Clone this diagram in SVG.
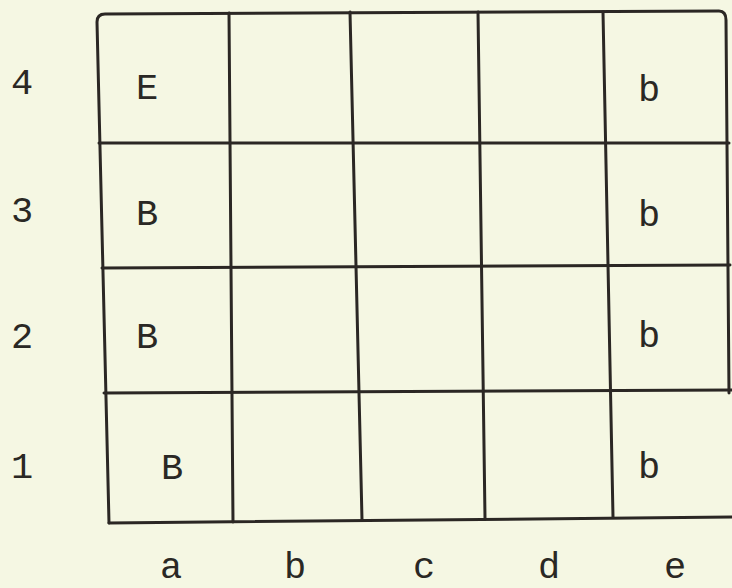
<svg xmlns="http://www.w3.org/2000/svg" width="732" height="588" viewBox="0 0 732 588">
<style>
.ln{fill:none;stroke:#2b2724;stroke-width:3;stroke-linecap:round;stroke-linejoin:round}
.t{font-family:"Liberation Mono","Courier New",monospace;font-size:37px;fill:#2a2824}
</style>
<rect width="732" height="588" fill="#f5f7e3"/>
<g id="grid">
<path class="ln" d="M109,523 L97,22 Q97,14 105,14 L719,11 Q726,11 726,20 L729,393"/>
<path class="ln" d="M109,523 L732,517"/>
<path class="ln" d="M99,143 L729,143"/>
<path class="ln" d="M102,268 L730,265"/>
<path class="ln" d="M104,393 L732,390"/>
<path class="ln" d="M229,13 L233,522"/>
<path class="ln" d="M350,12 L362,520"/>
<path class="ln" d="M478,12 L485,518"/>
<path class="ln" d="M603,12 L613,517"/>
</g>
<g id="rows">
<text class="t" x="11" y="94">4</text>
<text class="t" x="11" y="222">3</text>
<text class="t" x="11" y="348">2</text>
<text class="t" x="11" y="478">1</text>
</g>
<g id="cols">
<text class="t" x="160" y="578">a</text>
<text class="t" x="284" y="578">b</text>
<text class="t" x="413" y="578">c</text>
<text class="t" x="538" y="578">d</text>
<text class="t" x="664" y="578">e</text>
</g>
<g id="pieces">
<text class="t" x="136" y="99">E</text>
<text class="t" x="136" y="225">B</text>
<text class="t" x="136" y="348">B</text>
<text class="t" x="161" y="479">B</text>
<text class="t" x="638" y="101">b</text>
<text class="t" x="638" y="226">b</text>
<text class="t" x="638" y="347">b</text>
<text class="t" x="638" y="478">b</text>
</g>
</svg>
